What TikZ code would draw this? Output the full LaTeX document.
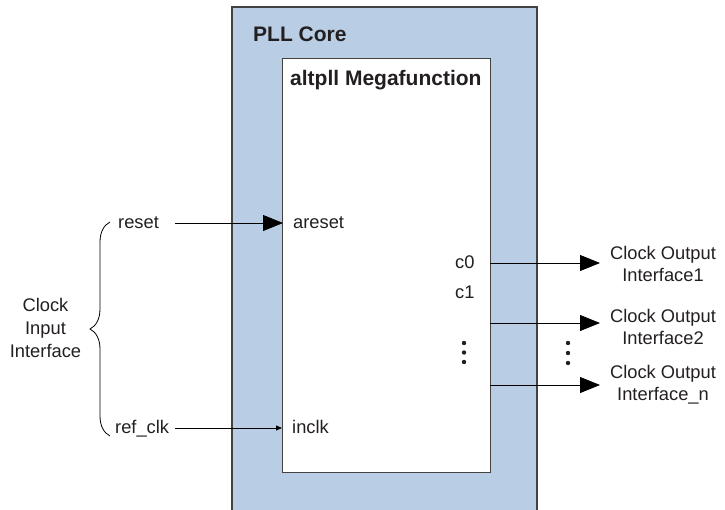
\documentclass[tikz,border=0pt]{standalone}
\usepackage{fontspec}
\setmainfont{Liberation Sans}
\usetikzlibrary{arrows.meta,decorations.pathreplacing}
\definecolor{coreblue}{HTML}{B9CDE5}
\definecolor{ink}{HTML}{231F20}
\begin{document}
\begin{tikzpicture}[x=1pt,y=-1pt,
  txt/.style={font=\fontsize{18.3}{22}\selectfont, text=ink, inner sep=0pt},
  ttl/.style={font=\fontsize{21}{24}\selectfont\bfseries, text=ink, inner sep=0pt},
  boxline/.style={draw=ink!85, line width=1.1pt},
  bigarrow/.style={-{Triangle[length=20pt,width=16pt]}, line width=0.8pt},
  smallarrow/.style={-{Triangle[length=6pt,width=5pt]}, line width=0.8pt},
  dot/.style={circle, fill=ink, inner sep=0pt, minimum size=4.4pt}]
\useasboundingbox (0,0) rectangle (725,509);
% PLL core
\path[fill=coreblue, boxline] (232,7) rectangle (537,520);
\node[ttl, anchor=base west] (pll) at (253,41) {PLL Core};
% altpll box
\node[boxline, fill=white, minimum width=208pt, minimum height=414pt, anchor=north west, inner sep=0pt] (alt) at (282,58) {};
\node[ttl, anchor=base west] (alttitle) at (290,85) {altpll Megafunction};
% ports
\node[txt, anchor=base west] (areset) at (293,228) {areset};
\node[txt, anchor=base west] (inclk) at (292,433) {inclk};
\node[txt, anchor=base west] (c0) at (455,268) {c0};
\node[txt, anchor=base west] (c1) at (455,298) {c1};
\node[dot] (d1) at (464,343) {};
\node[dot] (d2) at (464,352.5) {};
\node[dot] (d3) at (464,362) {};
% inputs
\node[txt, anchor=base west] (reset) at (118,228) {reset};
\node[txt, anchor=base west] (refclk) at (115,433) {ref\_clk};
\coordinate (rs) at (175,223);
\coordinate (rt) at (283,223);
\draw[bigarrow] (rs) -- (rt);
\coordinate (is) at (175,428);
\coordinate (it) at (282,428);
\draw[smallarrow] (is) -- (it);
% brace
\coordinate (bb) at (110,436);
\coordinate (bt) at (110,222);
\draw[line width=0.8pt, decorate, decoration={brace, amplitude=20pt}] (bb) -- (bt);
\node[txt, align=center, font=\fontsize{18.3}{22.7}\selectfont] (cii) at (45.5,328) {Clock\\Input\\Interface};
% outputs
\coordinate (o1s) at (490,263); \coordinate (o1t) at (600,263);
\coordinate (o2s) at (490,323); \coordinate (o2t) at (600,323);
\coordinate (o3s) at (490,385); \coordinate (o3t) at (600,385);
\draw[bigarrow] (o1s) -- (o1t);
\draw[bigarrow] (o2s) -- (o2t);
\draw[bigarrow] (o3s) -- (o3t);
\node[txt, align=center] (out1) at (663,264) {Clock Output\\Interface1};
\node[txt, align=center] (out2) at (663,327) {Clock Output\\Interface2};
\node[txt, align=center] (out3) at (663,385) {Clock Output\\Interface\_n};
\node[dot] (e1) at (568,343) {};
\node[dot] (e2) at (568,353) {};
\node[dot] (e3) at (568,363) {};
\end{tikzpicture}
\end{document}
